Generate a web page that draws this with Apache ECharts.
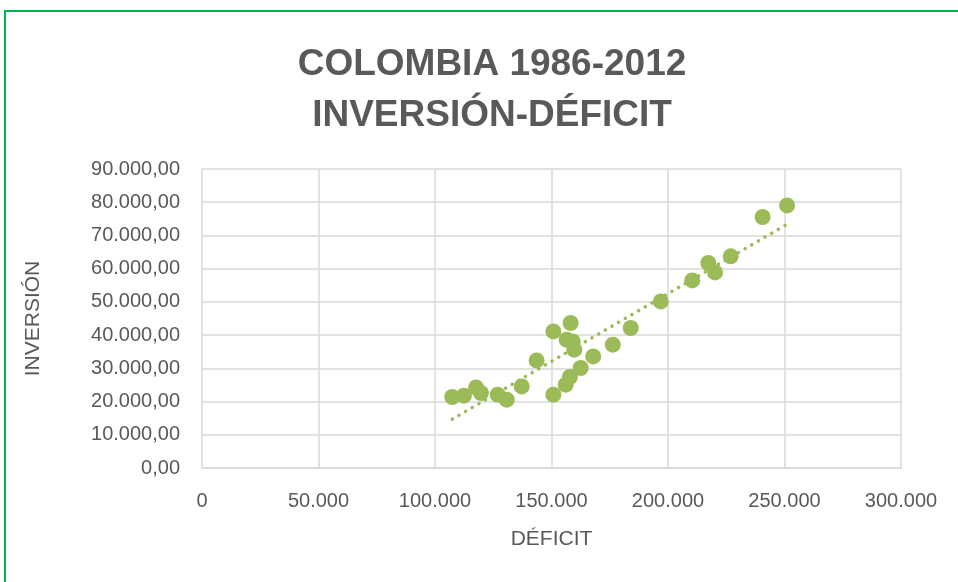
<!DOCTYPE html>
<html>
<head>
<meta charset="utf-8">
<script src="https://cdn.jsdelivr.net/npm/echarts@6/dist/echarts.min.js"></script>
<style>
  html, body { margin: 0; padding: 0; background: #fff; overflow: hidden; }
  #frame { position: absolute; left: 4px; top: 10px; width: 1000px; height: 1000px; border: 2px solid #00B050; box-sizing: border-box; }
  #chart { position: absolute; left: 0; top: 0; width: 958px; height: 582px; }
</style>
</head>
<body>
<div id="frame"></div>
<div id="chart"></div>
<script>
  // déficit (x) e inversión (y), 1986-2012
  const deficit = [107400, 112400, 117600, 119700, 126900, 130800, 137200, 143600, 150800, 150800,
                   158200, 156500, 159100, 159800, 156100, 157900, 162500, 167900, 176300, 184000,
                   196900, 210400, 217300, 220200, 226900, 240600, 251100]
  const inversion = [21370, 21760, 24260, 22580, 22070, 20560, 24560, 32390, 22070, 41120,
                     43650, 38620, 38110, 35610, 25080, 27390, 30100, 33590, 37120, 42140,
                     50150, 56470, 61710, 58880, 63700, 75560, 79050]
  const titleLines = ['COLOMBIA 1986-2012', 'INVERSIÓN-DÉFICIT']

  // línea de tendencia lineal (mínimos cuadrados)
  const n = deficit.length
  const mx = deficit.reduce((a, b) => a + b, 0) / n
  const my = inversion.reduce((a, b) => a + b, 0) / n
  let sxy = 0, sxx = 0
  for (let i = 0; i < n; i++) {
    sxy += (deficit[i] - mx) * (inversion[i] - my)
    sxx += (deficit[i] - mx) * (deficit[i] - mx)
  }
  const slope = sxy / sxx
  const icpt = my - slope * mx
  const xMin = Math.min(...deficit), xMax = Math.max(...deficit)
  const trend = [[xMin, icpt + slope * xMin], [xMax, icpt + slope * xMax]]

  const fmtThousands = v => String(Math.round(v)).replace(/\B(?=(\d{3})+(?!\d))/g, '.')

  const chart = echarts.init(document.getElementById('chart'))
  chart.setOption({
    animation: false,
    textStyle: { fontFamily: 'Liberation Sans' },
    title: {
      text: titleLines.join('\n'),
      left: 487, top: 34, textAlign: 'center',
      textStyle: { color: '#595959', fontSize: 37, fontWeight: 'bold', lineHeight: 51, fontFamily: 'Liberation Sans' }
    },
    grid: { left: 202, right: 57, top: 169, bottom: 114 },
    xAxis: {
      type: 'value', min: 0, max: 300000, interval: 50000,
      name: 'DÉFICIT', nameLocation: 'middle', nameGap: 61,
      nameTextStyle: { color: '#595959', fontSize: 21 },
      axisLine: { show: true, lineStyle: { color: '#d9d9d9', width: 1.5 } },
      axisTick: { show: false },
      axisLabel: { color: '#595959', fontSize: 20, margin: 23, formatter: fmtThousands },
      splitLine: { show: true, lineStyle: { color: '#d9d9d9', width: 1.5 } }
    },
    yAxis: {
      type: 'value', min: 0, max: 90000, interval: 10000,
      name: 'INVERSIÓN', nameLocation: 'middle', nameGap: 158, nameRotate: 90,
      nameTextStyle: { color: '#595959', fontSize: 21 },
      axisLine: { show: false },
      axisTick: { show: false },
      axisLabel: { color: '#595959', fontSize: 20, margin: 22, formatter: v => fmtThousands(v) + ',00' },
      splitLine: { show: true, lineStyle: { color: '#d9d9d9', width: 1.5 } }
    },
    series: [
      {
        type: 'line',
        data: trend,
        symbol: 'none',
        silent: true,
        lineStyle: { color: '#9BBB59', width: 3.5, type: [0.1, 7.6], cap: 'round' },
        z: 1
      },
      {
        type: 'scatter',
        data: deficit.map((d, i) => [d, inversion[i]]),
        symbolSize: 16,
        itemStyle: { color: '#9BBB59', opacity: 1 },
        z: 2
      }
    ]
  })
</script>
</body>
</html>
